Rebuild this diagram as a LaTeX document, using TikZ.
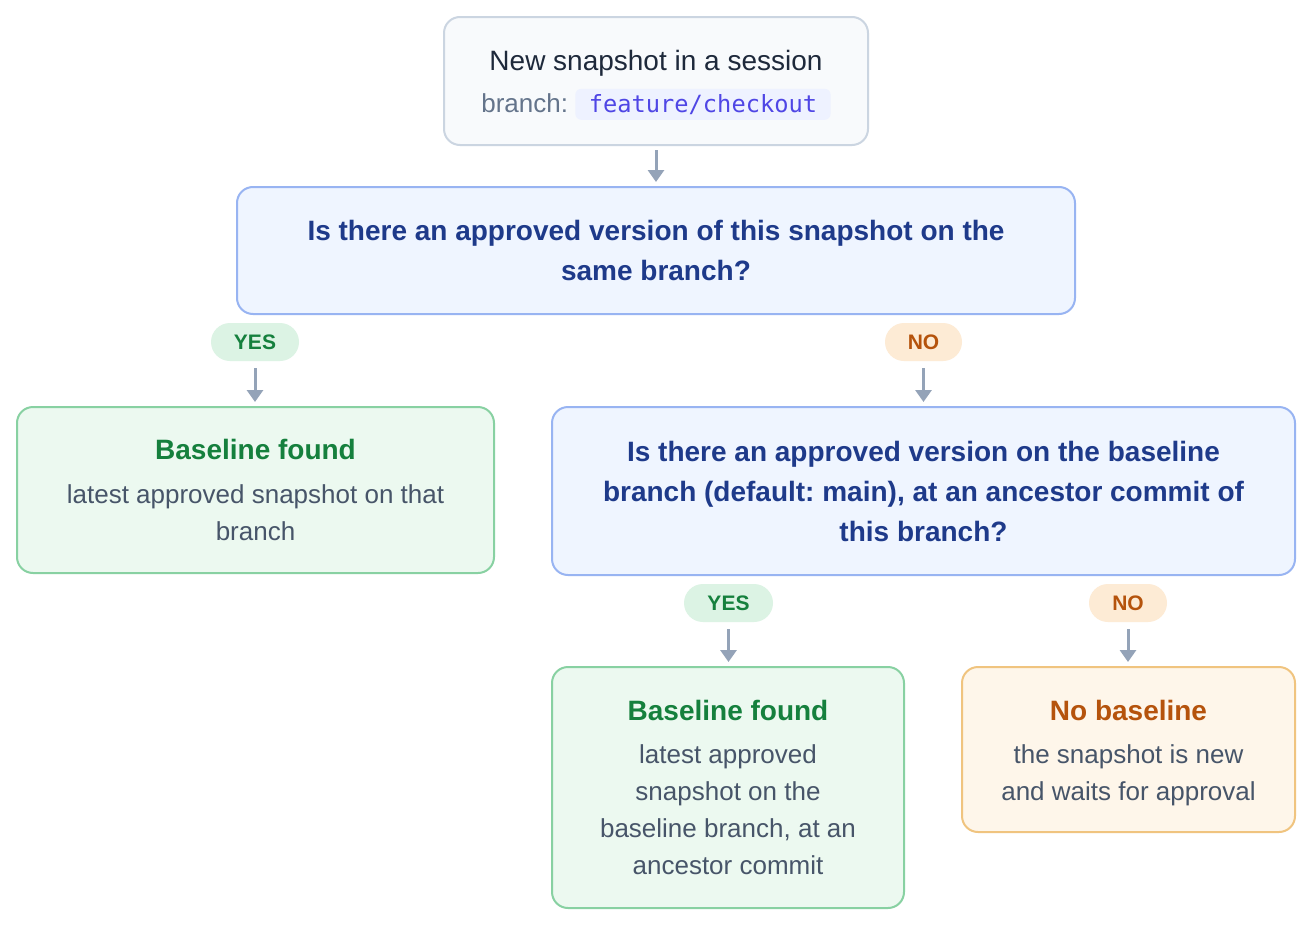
\documentclass[tikz,border=0pt]{standalone}
\usepackage{fontspec}
\setmainfont{Liberation Sans}
\setmonofont{DejaVu Sans Mono}
\usepackage{xcolor}
\usepackage{tikz}
\usetikzlibrary{positioning,arrows.meta}
\frenchspacing
\definecolor{startbg}{HTML}{F8FAFC}
\definecolor{startline}{HTML}{CBD5E1}
\definecolor{darkink}{HTML}{1E293B}
\definecolor{greyink}{HTML}{64748B}
\definecolor{bodyink}{HTML}{475569}
\definecolor{chipbg}{HTML}{EEF2FF}
\definecolor{chipink}{HTML}{4F46E5}
\definecolor{arrowgrey}{HTML}{94A3B8}
\definecolor{askbg}{HTML}{EFF5FF}
\definecolor{askline}{HTML}{98B4F2}
\definecolor{askink}{HTML}{1E3A8A}
\definecolor{yesbg}{HTML}{DCF3E4}
\definecolor{yesink}{HTML}{15803D}
\definecolor{foundbg}{HTML}{ECF9F0}
\definecolor{foundline}{HTML}{88D1A2}
\definecolor{nobg}{HTML}{FDEBD5}
\definecolor{noink}{HTML}{B5530C}
\definecolor{missbg}{HTML}{FEF6EA}
\definecolor{missline}{HTML}{F0C47F}
\newcommand{\codechip}[1]{\tikz[baseline=(chip.base)]\node[draw=none,fill=chipbg,rounded corners=3pt,inner xsep=6.75pt,inner ysep=0pt,minimum width=0pt,minimum height=15.5pt,text=chipink,font=\ttfamily\fontsize{11.85}{14}\selectfont](chip){#1};}
\newcommand{\headgreen}[1]{{\fontsize{14}{18.5}\selectfont\bfseries\color{yesink}#1}}
\newcommand{\headorange}[1]{{\fontsize{14}{18.5}\selectfont\bfseries\color{noink}#1}}

\begin{document}
\begin{tikzpicture}[
  x=0.5pt,y=-0.5pt,
  box/.style={draw,rounded corners=8pt,line width=1pt,align=center,inner sep=0pt},
  startbox/.style={box,fill=startbg,draw=startline,font=\fontsize{13}{21}\selectfont},
  askbox/.style={box,fill=askbg,draw=askline,text=askink,font=\bfseries\fontsize{14}{20}\selectfont},
  foundbox/.style={box,fill=foundbg,draw=foundline,text=bodyink,font=\fontsize{13}{18.5}\selectfont},
  missbox/.style={box,fill=missbg,draw=missline,text=bodyink,font=\fontsize{13}{18.5}\selectfont},
  pill/.style={rounded corners=9.5pt,minimum height=19pt,inner sep=0pt,font=\bfseries\fontsize{10.5}{12}\selectfont},
  yespill/.style={pill,fill=yesbg,text=yesink},
  nopill/.style={pill,fill=nobg,text=noink},
  flow/.style={-{Triangle[width=8pt,length=6pt]},draw=arrowgrey,line width=1.5pt},
  >=Stealth
]
  \fill[white] (0,0) rectangle (1312,926);

  % start
  \node[startbox,minimum width=212pt,minimum height=64pt] (top) at (656,81)
    {\rule{0pt}{14pt}{\fontsize{14}{21}\selectfont\color{darkink}New snapshot in a session}\\
     {\color{greyink}branch:} \codechip{feature/checkout}};

  % first question
  \node[askbox,minimum width=419pt,minimum height=63.5pt] (ask1) at (656,250.5)
    {Is there an approved version of this snapshot on the\\ same branch?};

  % answers to the first question
  \node[yespill,minimum width=44pt] (yes1) at (255,342) {YES};
  \node[nopill,minimum width=38.5pt] (no1) at (923.5,342) {NO};

  % same branch
  \node[foundbox,minimum width=238.5pt,minimum height=83pt] (found1) at (255.5,490)
    {\headgreen{Baseline found}\\[3.5pt] latest approved snapshot on that\\ branch};

  % second question
  \node[askbox,minimum width=371.5pt,minimum height=84pt] (ask2) at (923.5,491)
    {Is there an approved version on the baseline\\ branch (default: main), at an ancestor commit of\\ this branch?};

  % answers to the second question
  \node[yespill,minimum width=44.5pt] (yes2) at (728.5,603) {YES};
  \node[nopill,minimum width=39pt] (no2) at (1128,603) {NO};

  % leaves
  \node[foundbox,minimum width=176pt,minimum height=120.5pt] (found2) at (728,787.5)
    {\headgreen{Baseline found}\\[3pt] latest approved\\ snapshot on the\\ baseline branch, at an\\ ancestor commit};
  \node[missbox,minimum width=166.5pt,minimum height=82.5pt] (miss) at (1128.5,749.5)
    {\rule{0pt}{14pt}\headorange{No baseline}\\[3pt] the snapshot is new\\ and waits for approval};

  \draw[flow,shorten <=2pt,shorten >=2pt] (top) -- (ask1);
  \draw[flow,shorten <=3.5pt,shorten >=2pt] (yes1) -- (yes1 |- found1.north);
  \draw[flow,shorten <=3.5pt,shorten >=2pt] (no1) -- (no1 |- ask2.north);
  \draw[flow,shorten <=3.5pt,shorten >=2pt] (yes2) -- (yes2 |- found2.north);
  \draw[flow,shorten <=3.5pt,shorten >=2pt] (no2) -- (no2 |- miss.north);
\end{tikzpicture}
\end{document}
